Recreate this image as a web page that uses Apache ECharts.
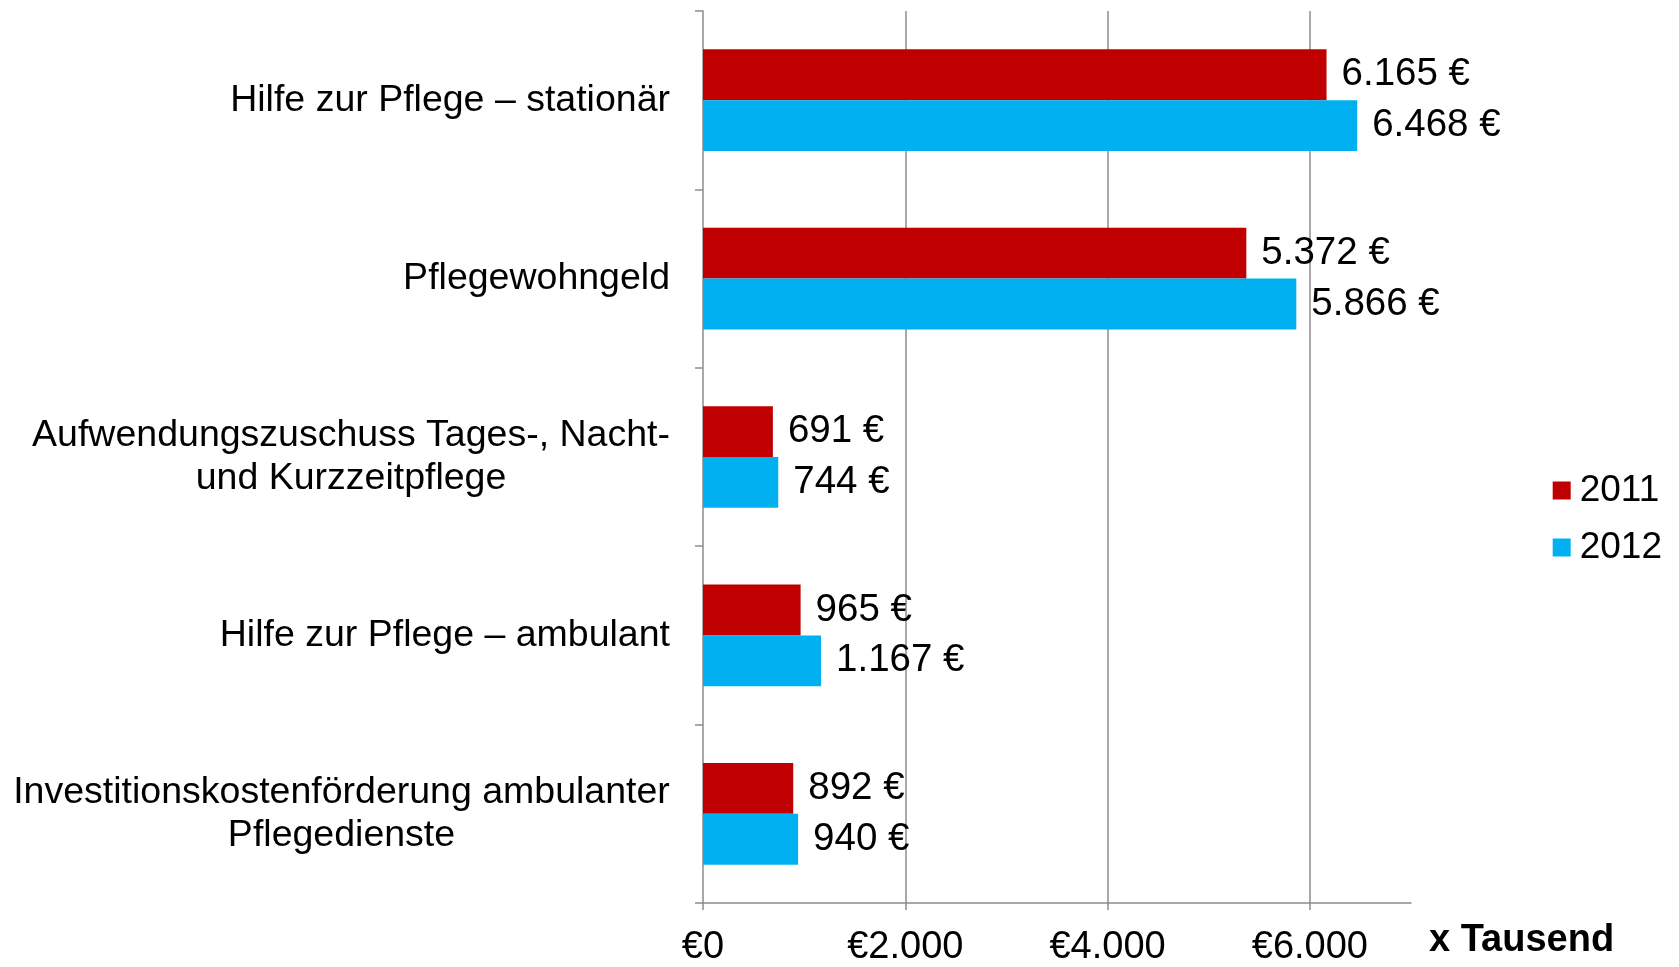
<!DOCTYPE html>
<html>
<head>
<meta charset="utf-8">
<script src="https://cdn.jsdelivr.net/npm/echarts@6/dist/echarts.min.js"></script>
<style>
html,body{margin:0;padding:0;background:#fff;}
#chart{width:1679px;height:967px;}
</style>
</head>
<body>
<div id="chart"></div>
<script>
const categories = [
  'Hilfe zur Pflege – stationär',
  'Pflegewohngeld',
  'Aufwendungszuschuss Tages-, Nacht-\nund Kurzzeitpflege',
  'Hilfe zur Pflege – ambulant',
  'Investitionskostenförderung ambulanter\nPflegedienste'
];
const values2011 = [6165, 5372, 691, 965, 892];
const values2012 = [6468, 5866, 744, 1167, 940];
const seriesNames = ['2011', '2012'];
const xTicks = [0, 2000, 4000, 6000];
const gridValues = [2000, 4000, 6000];
const axisName = 'x Tausend';

const FONT = "'Liberation Sans', Arial, sans-serif";
const FS_CAT = 37.5;
const FS_VAL = 38.5;
const FS_TICK = 38;
const FS_LEG = 37;

function fmt(v) {
  return String(v).replace(/\B(?=(\d{3})+(?!\d))/g, '.');
}

// Measure widest line for centred multi-line labels
const cv = document.createElement('canvas').getContext('2d');
cv.font = FS_CAT + "px 'Liberation Sans'";
const rich = {};
categories.forEach((c, i) => {
  const w = Math.max(...c.split('\n').map(l => cv.measureText(l).width));
  rich['c' + i] = { width: Math.ceil(w), align: 'center', fontSize: FS_CAT, lineHeight: 43, fontFamily: FONT, color: '#000' };
});

const chart = echarts.init(document.getElementById('chart'));
const gray = '#8c8c8c';

chart.setOption({
  animation: false,
  textStyle: { fontFamily: FONT },
  grid: { left: 703, right: 268, top: 11, bottom: 62, containLabel: false },
  legend: {
    orient: 'vertical',
    right: 12,
    top: 467,
    itemWidth: 18,
    itemHeight: 18,
    itemGap: 20,
    icon: 'rect',
    textStyle: { fontSize: FS_LEG, color: '#000', fontFamily: FONT, padding: [0, 0, 0, 4] },
    data: seriesNames
  },
  xAxis: {
    type: 'value',
    min: 0,
    max: 7000,
    interval: 2000,
    name: axisName,
    nameLocation: 'end',
    nameGap: 18,
    nameTextStyle: { fontSize: FS_TICK, fontWeight: 'bold', color: '#000', fontFamily: FONT, verticalAlign: 'top', padding: [19, 0, 0, 0] },
    axisLine: { show: true, lineStyle: { color: gray, width: 1.5 } },
    axisTick: { show: true, length: 7, customValues: xTicks, lineStyle: { color: gray, width: 1.5 } },
    axisLabel: { customValues: xTicks, fontSize: FS_TICK, color: '#000', margin: 26, fontFamily: FONT,
      formatter: v => '€' + fmt(v) },
    splitLine: { show: false }
  },
  yAxis: {
    type: 'category',
    inverse: true,
    data: categories,
    axisLine: { show: true, lineStyle: { color: gray, width: 1.5 } },
    axisTick: { show: true, length: 8, lineStyle: { color: gray, width: 1.5 } },
    axisLabel: {
      fontSize: FS_CAT, color: '#000', margin: 33, fontFamily: FONT, lineHeight: 43,
      formatter: (v, i) => v.indexOf('\n') >= 0 ? v.split('\n').map(l => '{c' + i + '|' + l + '}').join('\n') : v,
      rich: rich
    }
  },
  series: [
    {
      name: seriesNames[0],
      type: 'bar',
      data: values2011,
      barGap: '0%',
      barCategoryGap: '43%',
      itemStyle: { color: '#C00000' },
      label: { show: true, position: 'right', distance: 15, fontSize: FS_VAL, color: '#000', fontFamily: FONT,
        padding: [6, 0, 0, 0],
        formatter: p => fmt(p.value) + ' €' },
      markLine: {
        silent: true,
        symbol: 'none',
        z: 1,
        label: { show: false },
        lineStyle: { color: gray, width: 1.5, type: 'solid' },
        data: gridValues.map(v => ({ xAxis: v }))
      }
    },
    {
      name: seriesNames[1],
      type: 'bar',
      data: values2012,
      barGap: '0%',
      barCategoryGap: '43%',
      itemStyle: { color: '#00B0F0' },
      label: { show: true, position: 'right', distance: 15, fontSize: FS_VAL, color: '#000', fontFamily: FONT,
        padding: [6, 0, 0, 0],
        formatter: p => fmt(p.value) + ' €' }
    }
  ]
});
</script>
</body>
</html>
